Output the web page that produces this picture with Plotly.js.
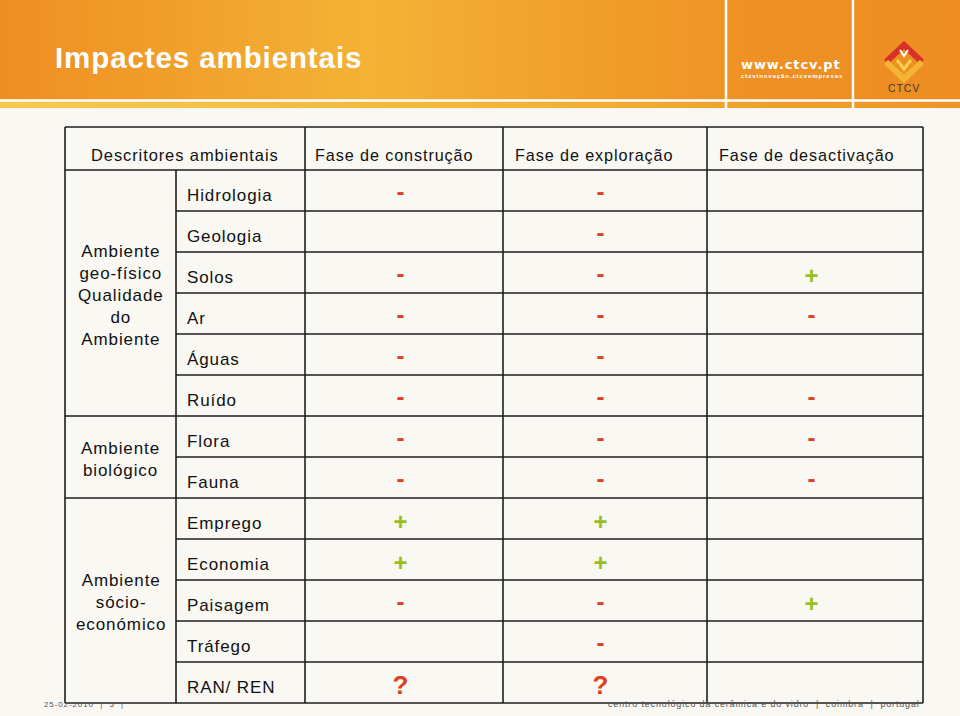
<!DOCTYPE html>
<html><head><meta charset="utf-8">
<script src="https://cdn.plot.ly/plotly-3.0.1.min.js"></script>
<style>html,body{margin:0;padding:0;background:#f9f8f3;} #chart{width:960px;height:716px;}
text{letter-spacing:0.9px;}</style>
</head><body><div id="chart"></div>
<script>
// ---------- data ----------
const title = 'Impactes ambientais';
const descriptorHeader = 'Descritores ambientais';
const phases = ['Fase de construção', 'Fase de exploração', 'Fase de desactivação'];
const descriptors = ['Hidrologia', 'Geologia', 'Solos', 'Ar', 'Águas', 'Ruído', 'Flora', 'Fauna',
                     'Emprego', 'Economia', 'Paisagem', 'Tráfego', 'RAN/ REN'];
const groupLabels = ['Ambiente<br>geo-físico<br>Qualidade<br>do<br>Ambiente', 'Ambiente<br>biológico', 'Ambiente<br>sócio-<br>económico'];
const groupSizes = [6, 2, 5];
const construcao   = ['-', '',  '-', '-', '-', '-', '-', '-', '+', '+', '-', '',  '?'];
const exploracao   = ['-', '-', '-', '-', '-', '-', '-', '-', '+', '+', '-', '-', '?'];
const desactivacao = ['',  '',  '+', '-', '',  '-', '-', '-', '',  '',  '+', '',  ''];
const footerLeft = '25-02-2010  |  5  |';
const footerRight = 'centro tecnológico da cerâmica e do vidro  |  coimbra  |  portugal';
const logoUrl = 'www.ctcv.pt';
const logoSub = 'ctcvinovação.ctcvempresas';
const logoName = 'CTCV';

// ---------- geometry / style ----------
const W = 960, H = 716;
const colX = [65, 176, 305, 503, 707, 923];
const tableTop = 127, headH = 43, rowH = 41;
const rowTop = i => tableTop + headH + i * rowH;
const nRows = descriptors.length;
const tableBottom = rowTop(nRows);
const LINE = '#1e1e1e';
const RED = '#e0401c', GREEN = '#99bf1c';
const FONT = 'Liberation Sans, Arial, sans-serif';

const shapes = [];
function hline(y, x0, x1, w) { shapes.push({type:'line', xref:'x', yref:'y', x0, x1, y0:y, y1:y, line:{color:LINE, width:w||1.6}}); }
function vline(x, y0, y1, w) { shapes.push({type:'line', xref:'x', yref:'y', x0:x, x1:x, y0, y1, line:{color:LINE, width:w||1.6}}); }

// header band decorations
shapes.push({type:'line', xref:'x', yref:'y', x0:0, x1:W, y0:100.5, y1:100.5, line:{color:'#ffffff', width:2.5}});
shapes.push({type:'line', xref:'x', yref:'y', x0:726, x1:726, y0:0, y1:108, line:{color:'#ffffff', width:2.5}});
shapes.push({type:'line', xref:'x', yref:'y', x0:853, x1:853, y0:0, y1:108, line:{color:'#ffffff', width:2.5}});

// CTCV logo (simplified diamond)
const lc = [904, 62], hw = 18, hh = 17;
shapes.push({type:'path', xref:'x', yref:'y', path:`M ${lc[0]-hw} ${lc[1]} L ${lc[0]} ${lc[1]-hh} L ${lc[0]+hw} ${lc[1]}`, line:{color:'#d8332a', width:6}});
shapes.push({type:'path', xref:'x', yref:'y', path:`M ${lc[0]-hw} ${lc[1]} L ${lc[0]} ${lc[1]+hh} L ${lc[0]+hw} ${lc[1]}`, line:{color:'#f2b632', width:6}});
shapes.push({type:'path', xref:'x', yref:'y', path:`M ${lc[0]-7} ${lc[1]-2} L ${lc[0]} ${lc[1]+7} L ${lc[0]+7} ${lc[1]-2}`, line:{color:'#f8d24a', width:3}});
shapes.push({type:'path', xref:'x', yref:'y', path:`M ${lc[0]-4} ${lc[1]-12} L ${lc[0]} ${lc[1]-6} L ${lc[0]+4} ${lc[1]-12}`, line:{color:'#ffffff', width:2}});

// table grid
hline(tableTop, colX[0], colX[5]);
hline(rowTop(0), colX[0], colX[5]);
let acc = 0;
const groupBounds = [];
groupSizes.forEach(s => { groupBounds.push([acc, acc + s]); acc += s; });
const groupEnds = new Set(groupBounds.map(g => g[1]));
for (let i = 1; i <= nRows; i++) {
  if (groupEnds.has(i)) hline(rowTop(i), colX[0], colX[5]);
  else hline(rowTop(i), colX[1], colX[5]);
}
vline(colX[0], tableTop, tableBottom);
vline(colX[1], rowTop(0), tableBottom);
for (let c = 2; c < colX.length; c++) vline(colX[c], tableTop, tableBottom);

// annotations
const ann = [];
ann.push({xref:'x', yref:'y', x:53, y:57, xanchor:'left', yanchor:'middle', text:'<b>' + title + '</b>', showarrow:false,
          font:{family:FONT, size:29.5, color:'#ffffff'}});
ann.push({xref:'x', yref:'y', x:739, y:64, xanchor:'left', yanchor:'middle', text:'<b>' + logoUrl + '</b>', showarrow:false,
          font:{family:'DejaVu Sans, sans-serif', size:13, color:'#ffffff'}});
ann.push({xref:'x', yref:'y', x:739, y:76, xanchor:'left', yanchor:'middle', text:'<b>' + logoSub + '</b>', showarrow:false,
          font:{family:FONT, size:6, color:'#ffffff'}});
ann.push({xref:'x', yref:'y', x:904, y:88, xanchor:'center', yanchor:'middle', text:logoName, showarrow:false,
          font:{family:FONT, size:10.5, color:'#3a3a3a'}});

// header row
const headY = tableTop + headH / 2 + 6;
ann.push({xref:'x', yref:'y', x:(colX[0] + colX[2]) / 2, y:headY, text:descriptorHeader, showarrow:false,
          xanchor:'center', yanchor:'middle', font:{family:FONT, size:16.5, color:'#111'}});
const headPad = [8, 10, 10];
phases.forEach((p, k) => {
  ann.push({xref:'x', yref:'y', x:colX[k + 2] + headPad[k], y:headY, text:p, showarrow:false,
            xanchor:'left', yanchor:'middle', font:{family:FONT, size:16.2, color:'#111'}});
});
// descriptor labels
descriptors.forEach((d, i) => {
  ann.push({xref:'x', yref:'y', x:colX[1] + 9, y:rowTop(i) + rowH / 2 + 5, text:d, showarrow:false,
            xanchor:'left', yanchor:'middle', font:{family:FONT, size:17, color:'#111'}});
});
// group labels
groupLabels.forEach((g, k) => {
  const [a, b] = groupBounds[k];
  ann.push({xref:'x', yref:'y', x:(colX[0] + colX[1]) / 2, y:(rowTop(a) + rowTop(b)) / 2 + 2, text:g, showarrow:false,
            xanchor:'center', yanchor:'middle', align:'center', font:{family:FONT, size:17, color:'#111'}});
});
// footer
ann.push({xref:'x', yref:'y', x:42, y:704, xanchor:'left', yanchor:'middle', text:footerLeft, showarrow:false,
          font:{family:FONT, size:8, color:'#555'}});
ann.push({xref:'x', yref:'y', x:922, y:704, xanchor:'right', yanchor:'middle', text:footerRight, showarrow:false,
          font:{family:FONT, size:8.9, color:'#555'}});

// symbol traces
const series = [construcao, exploracao, desactivacao];
const offsets = [-3, -4, -3];
const dy = {'-': 3, '+': 5, '?': 5};
const traces = series.map((vals, k) => {
  const xs = [], ys = [], ts = [], cs = [], ss = [];
  vals.forEach((v, i) => {
    if (!v) return;
    xs.push((colX[k + 2] + colX[k + 3]) / 2 + offsets[k]);
    ys.push(rowTop(i) + rowH / 2 + dy[v]);
    ts.push(v);
    cs.push(v === '+' ? GREEN : RED);
    ss.push(v === '?' ? 26 : 24);
  });
  return {type:'scatter', mode:'text', x:xs, y:ys, text:ts, textposition:'middle center', hoverinfo:'skip',
          textfont:{family:FONT, size:ss, color:cs, weight:'bold'}, showlegend:false, cliponaxis:false};
});

// header gradient image
const svg = `<svg xmlns='http://www.w3.org/2000/svg' width='960' height='108'>
<defs><linearGradient id='g' x1='0' x2='1' y1='0' y2='0'>
<stop offset='0' stop-color='#ee8e22'/><stop offset='0.38' stop-color='#f4b236'/><stop offset='0.6' stop-color='#f1a02c'/><stop offset='0.8' stop-color='#ee9024'/><stop offset='1' stop-color='#ee8e22'/></linearGradient>
<linearGradient id='s' x1='0' x2='1' y1='0' y2='0'>
<stop offset='0' stop-color='#f7c84e'/><stop offset='0.5' stop-color='#f5b53c'/><stop offset='0.76' stop-color='#f2a22e'/><stop offset='1' stop-color='#ef9426'/></linearGradient></defs>
<rect x='0' y='0' width='960' height='101' fill='url(#g)'/><rect x='0' y='101' width='960' height='7' fill='url(#s)'/></svg>`;
const imgSrc = 'data:image/svg+xml;charset=utf-8,' + encodeURIComponent(svg);

const layout = {
  width:W, height:H, margin:{l:0, r:0, t:0, b:0},
  paper_bgcolor:'#f9f8f3', plot_bgcolor:'#f9f8f3',
  xaxis:{range:[0, W], visible:false, fixedrange:true},
  yaxis:{range:[H, 0], visible:false, fixedrange:true},
  shapes, annotations:ann, showlegend:false,
  images:[{source:imgSrc, xref:'paper', yref:'paper', x:0, y:1, sizex:1, sizey:108 / H, xanchor:'left', yanchor:'top', sizing:'stretch', layer:'below'}]
};
Plotly.newPlot('chart', traces, layout, {displayModeBar:false, staticPlot:true});
</script></body></html>
